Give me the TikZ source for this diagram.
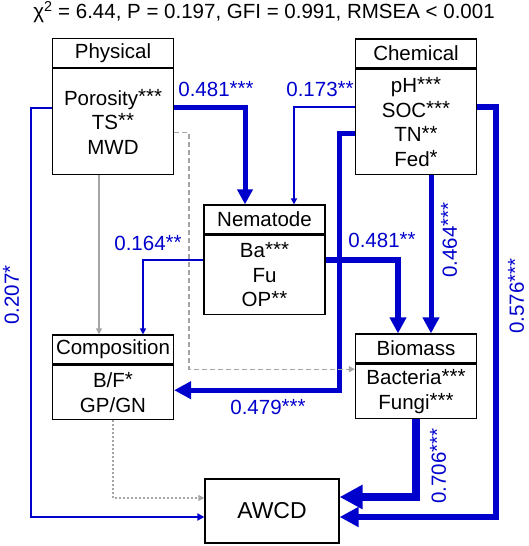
\documentclass[tikz,border=0pt]{standalone}
\usepackage{fontspec}
\setmainfont{Liberation Sans}
\usetikzlibrary{arrows.meta, positioning}

\definecolor{pathblue}{RGB}{0,0,205}
\definecolor{pathgray}{RGB}{165,165,165}

% significance stars
\newcommand{\sig}[1]{\raisebox{0.08em}{#1}}

\tikzset{
  headbox/.style={draw, line width=1.2pt, minimum width=121pt, minimum height=29pt, inner sep=0pt},
  bodybox/.style={draw, line width=1.2pt, minimum width=121pt, minimum height=#1, inner sep=0pt, align=center},
  effect/.style n args={2}{draw=pathblue, line width=#1, -{Triangle[length=#2, width=#2]}},
  noeffect/.style={draw=pathgray, line width=1.3pt, -{Triangle[length=6pt, width=6pt]}},
  coeff/.style={text=pathblue, inner sep=0pt}
}

\begin{document}
\begin{tikzpicture}[x=1pt, y=-1pt, font=\fontsize{20.5}{24.5}\selectfont]
\useasboundingbox (0,0) rectangle (529,546);

% Fit indices
\node (fit) at (264,12) {χ\textsuperscript{2} = 6.44, P = 0.197, GFI = 0.991, RMSEA < 0.001};

% Physical
\node[headbox] (physHead) at (113,53) {Physical};
\node[bodybox=106pt, below=0pt of physHead] (phys) {Porosity\sig{***}\\TS\sig{**}\\MWD};

% Chemical
\node[headbox] (chemHead) at (416,53.5) {Chemical};
\node[bodybox=105pt, below=0pt of chemHead] (chem) {pH\sig{***}\\SOC\sig{***}\\TN\sig{**}\\Fed\sig{*}};

% Nematode
\node[headbox] (nemaHead) at (264.5,219.5) {Nematode};
\node[bodybox=79pt, below=0pt of nemaHead] (nema) {Ba\sig{***}\\Fu\\OP\sig{**}};

% Composition
\node[headbox] (compHead) at (113,349.5) {Composition};
\node[bodybox=54pt, below=0pt of compHead] (comp) {B/F\sig{*}\\GP/GN};

% Biomass
\node[headbox] (bioHead) at (416,348.5) {Biomass};
\node[bodybox=54pt, below=0pt of bioHead] (bio) {Bacteria\sig{***}\\Fungi\sig{***}};

% AWCD
\node[draw, line width=1.2pt, minimum width=134pt, minimum height=64pt, font=\fontsize{23}{27}\selectfont] (awcd) at (272,511) {AWCD};

% Non-significant paths
\draw[noeffect] ([xshift=-14pt]phys.south) -- ([xshift=-14pt]compHead.north);
\draw[noeffect, dash pattern=on 2pt off 2pt] (comp.south) |- ([yshift=13pt]awcd.west);

% Significant paths
\draw[effect={2pt}{7pt}] ([yshift=14pt]phys.west) -- ++(-21,0) |- ([yshift=-6pt]awcd.west);
\draw[effect={1.5pt}{6pt}] ([yshift=14.5pt]nema.west) -| ([xshift=30pt]compHead.north);
\draw[effect={1.5pt}{6pt}] ([yshift=14.5pt]chem.west) -| ([xshift=29.5pt]nemaHead.north);
\draw[effect={5pt}{15pt}] ([yshift=14pt]phys.east) -| ([xshift=-19.5pt]nemaHead.north);
\draw[effect={5pt}{17pt}] ([yshift=-11.5pt]chem.west) -- ++(-15,0) |- ([yshift=2pt]comp.east);
\draw[effect={5.5pt}{16pt}] ([yshift=14.5pt]nema.east) -| ([xshift=-18pt]bioHead.north);
\draw[effect={5pt}{16pt}] ([xshift=15pt]chem.south) -- ([xshift=15pt]bioHead.north);
\draw[effect={6.5pt}{19pt}] ([yshift=14.5pt]chem.east) -- ++(19,0) |- ([yshift=-6pt]awcd.east);
\draw[effect={8pt}{23pt}] (bio.south) |- ([yshift=14pt]awcd.east);

% Non-significant path over the others
\draw[noeffect, dash pattern=on 5pt off 3pt] ([yshift=-11pt]phys.east) -- ++(15,0) |- ([yshift=22pt]bio.west);

% Path coefficients
\node[coeff] (c481a) at (216,89) {0.481\sig{***}};
\node[coeff] (c173) at (320,89) {0.173\sig{**}};
\node[coeff] (c164) at (148,243) {0.164\sig{**}};
\node[coeff] (c481b) at (382,240) {0.481\sig{**}};
\node[coeff] (c479) at (268,407) {0.479\sig{***}};
\node[coeff, rotate=90] (c207) at (11,295) {0.207\sig{*}};
\node[coeff, rotate=90] (c464) at (449,240) {0.464\sig{***}};
\node[coeff, rotate=90] (c576) at (516,296) {0.576\sig{***}};
\node[coeff, rotate=90] (c706) at (438,466) {0.706\sig{***}};

\end{tikzpicture}
\end{document}
